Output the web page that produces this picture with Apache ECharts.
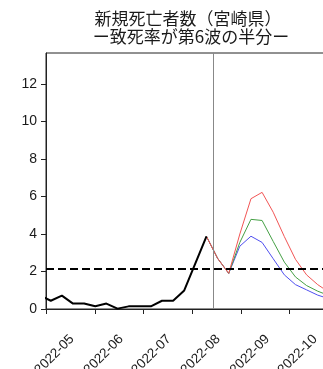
<!DOCTYPE html>
<html>
<head>
<meta charset="utf-8">
<script src="https://cdn.jsdelivr.net/npm/echarts@6/dist/echarts.min.js"></script>
<style>
html,body{margin:0;padding:0;background:#fff;overflow:hidden;width:323px;height:369px;}
#chart{width:420px;height:369px;}
</style>
</head>
<body>
<div id="chart"></div>
<script>
// ---- data ----
const actualDates = ['2022-04-27','2022-05-04','2022-05-11','2022-05-18','2022-05-25','2022-06-01','2022-06-08','2022-06-15','2022-06-22','2022-06-29','2022-07-06','2022-07-13','2022-07-20','2022-07-27','2022-08-03','2022-08-10'];
const actualDeaths = [0.73, 0.44, 0.71, 0.29, 0.29, 0.15, 0.29, 0.02, 0.14, 0.14, 0.14, 0.44, 0.44, 0.99, 2.43, 3.87];

const forecastDates = ['2022-08-10','2022-08-17','2022-08-24','2022-08-31','2022-09-07','2022-09-14','2022-09-21','2022-09-28','2022-10-05','2022-10-12','2022-10-19','2022-10-26'];
const forecastRed   = [3.87, 2.7, 1.9, 4.0, 5.88, 6.22, 5.16, 3.86, 2.65, 1.82, 1.3, 0.9];
const forecastGreen = [3.87, 2.7, 1.9, 3.55, 4.78, 4.72, 3.6, 2.5, 1.71, 1.25, 0.95, 0.72];
const forecastBlue  = [3.87, 2.7, 1.9, 3.35, 3.88, 3.55, 2.68, 1.82, 1.3, 1.02, 0.74, 0.55];

const thresholdLevel = 2.13;
const cutoffDate = '2022-08-14';

const xTickDates = ['2022-05-01','2022-06-01','2022-07-01','2022-08-01','2022-09-01','2022-10-01'];
const yTicks = [0, 2, 4, 6, 8, 10, 12];
const xMinDate = '2022-05-01';
const xMaxDate = '2022-10-28';
const yMax = 13.65;

const titleLine1 = '新規死亡者数（宮崎県）';
const titleLine2 = 'ー致死率が第6波の半分ー';

// ---- helpers ----
function t(s){ const p = s.split('-').map(Number); return Date.UTC(p[0], p[1]-1, p[2]); }
function pairs(dates, vals){ return dates.map((d,i)=>[t(d), vals[i]]); }
function fmt(v){ const d = new Date(v); const m = d.getUTCMonth()+1; return d.getUTCFullYear() + '-' + (m<10?'0':'') + m; }

const font = 'Liberation Sans, Arial, sans-serif';
const titleStyle = { fontFamily: 'Noto Sans CJK JP', fontSize: 17, fontWeight: 'normal', color: '#1a1a1a' };
const chart = echarts.init(document.getElementById('chart'), null, {renderer:'canvas'});
chart.setOption({
  animation: false,
  backgroundColor: '#fff',
  title: [
    { text: titleLine1, left: 188, top: 10, textAlign: 'center', padding: 0, textStyle: titleStyle },
    { text: titleLine2, left: 191, top: 28, textAlign: 'center', padding: 0, textStyle: titleStyle }
  ],
  grid: { left: 46, top: 53, width: 286, height: 256, outerBoundsMode: 'none', containLabel: false, show: true, borderColor: '#222', borderWidth: 1, backgroundColor: 'transparent' },
  xAxis: {
    type: 'value',
    min: t(xMinDate),
    max: t(xMaxDate),
    splitLine: { show: false },
    axisLine: { show: true, onZero: false, lineStyle: { color: '#222', width: 1 } },
    axisTick: { show: true, length: 5, lineStyle: { color: '#222' }, customValues: xTickDates.map(t) },
    axisLabel: {
      customValues: xTickDates.map(t),
      formatter: fmt,
      rotate: 45,
      align: 'center',
      verticalAlign: 'top',
      padding: [5, 0, 0, 0],
      margin: 37,
      fontFamily: font,
      fontSize: 13.5,
      color: '#1a1a1a'
    }
  },
  yAxis: {
    type: 'value',
    min: 0,
    max: yMax,
    splitLine: { show: false },
    axisLine: { show: true, lineStyle: { color: '#222', width: 1 } },
    axisTick: { show: true, length: 5, lineStyle: { color: '#222' }, customValues: yTicks },
    axisLabel: { customValues: yTicks, margin: 9, fontFamily: font, fontSize: 14, color: '#1a1a1a' }
  },
  series: [
    {
      type: 'line', data: pairs(forecastDates, forecastBlue), symbol: 'none', clip: true,
      lineStyle: { color: '#5050f0', width: 1 }, z: 3
    },
    {
      type: 'line', data: pairs(forecastDates, forecastGreen), symbol: 'none', clip: true,
      lineStyle: { color: '#45a045', width: 1 }, z: 3
    },
    {
      type: 'line', data: pairs(forecastDates, forecastRed), symbol: 'none', clip: true,
      lineStyle: { color: '#f25555', width: 1 }, z: 3
    },
    {
      type: 'line', data: pairs(actualDates, actualDeaths), symbol: 'none', clip: true,
      lineStyle: { color: '#000', width: 2 }, z: 4,
      markLine: {
        silent: true, symbol: 'none', label: { show: false },
        data: [
          { yAxis: thresholdLevel, lineStyle: { color: '#000', width: 2, type: [8, 4] } },
          { xAxis: t(cutoffDate), lineStyle: { color: '#888', width: 1, type: 'solid' } }
        ]
      }
    }
  ]
});
</script>
</body>
</html>
